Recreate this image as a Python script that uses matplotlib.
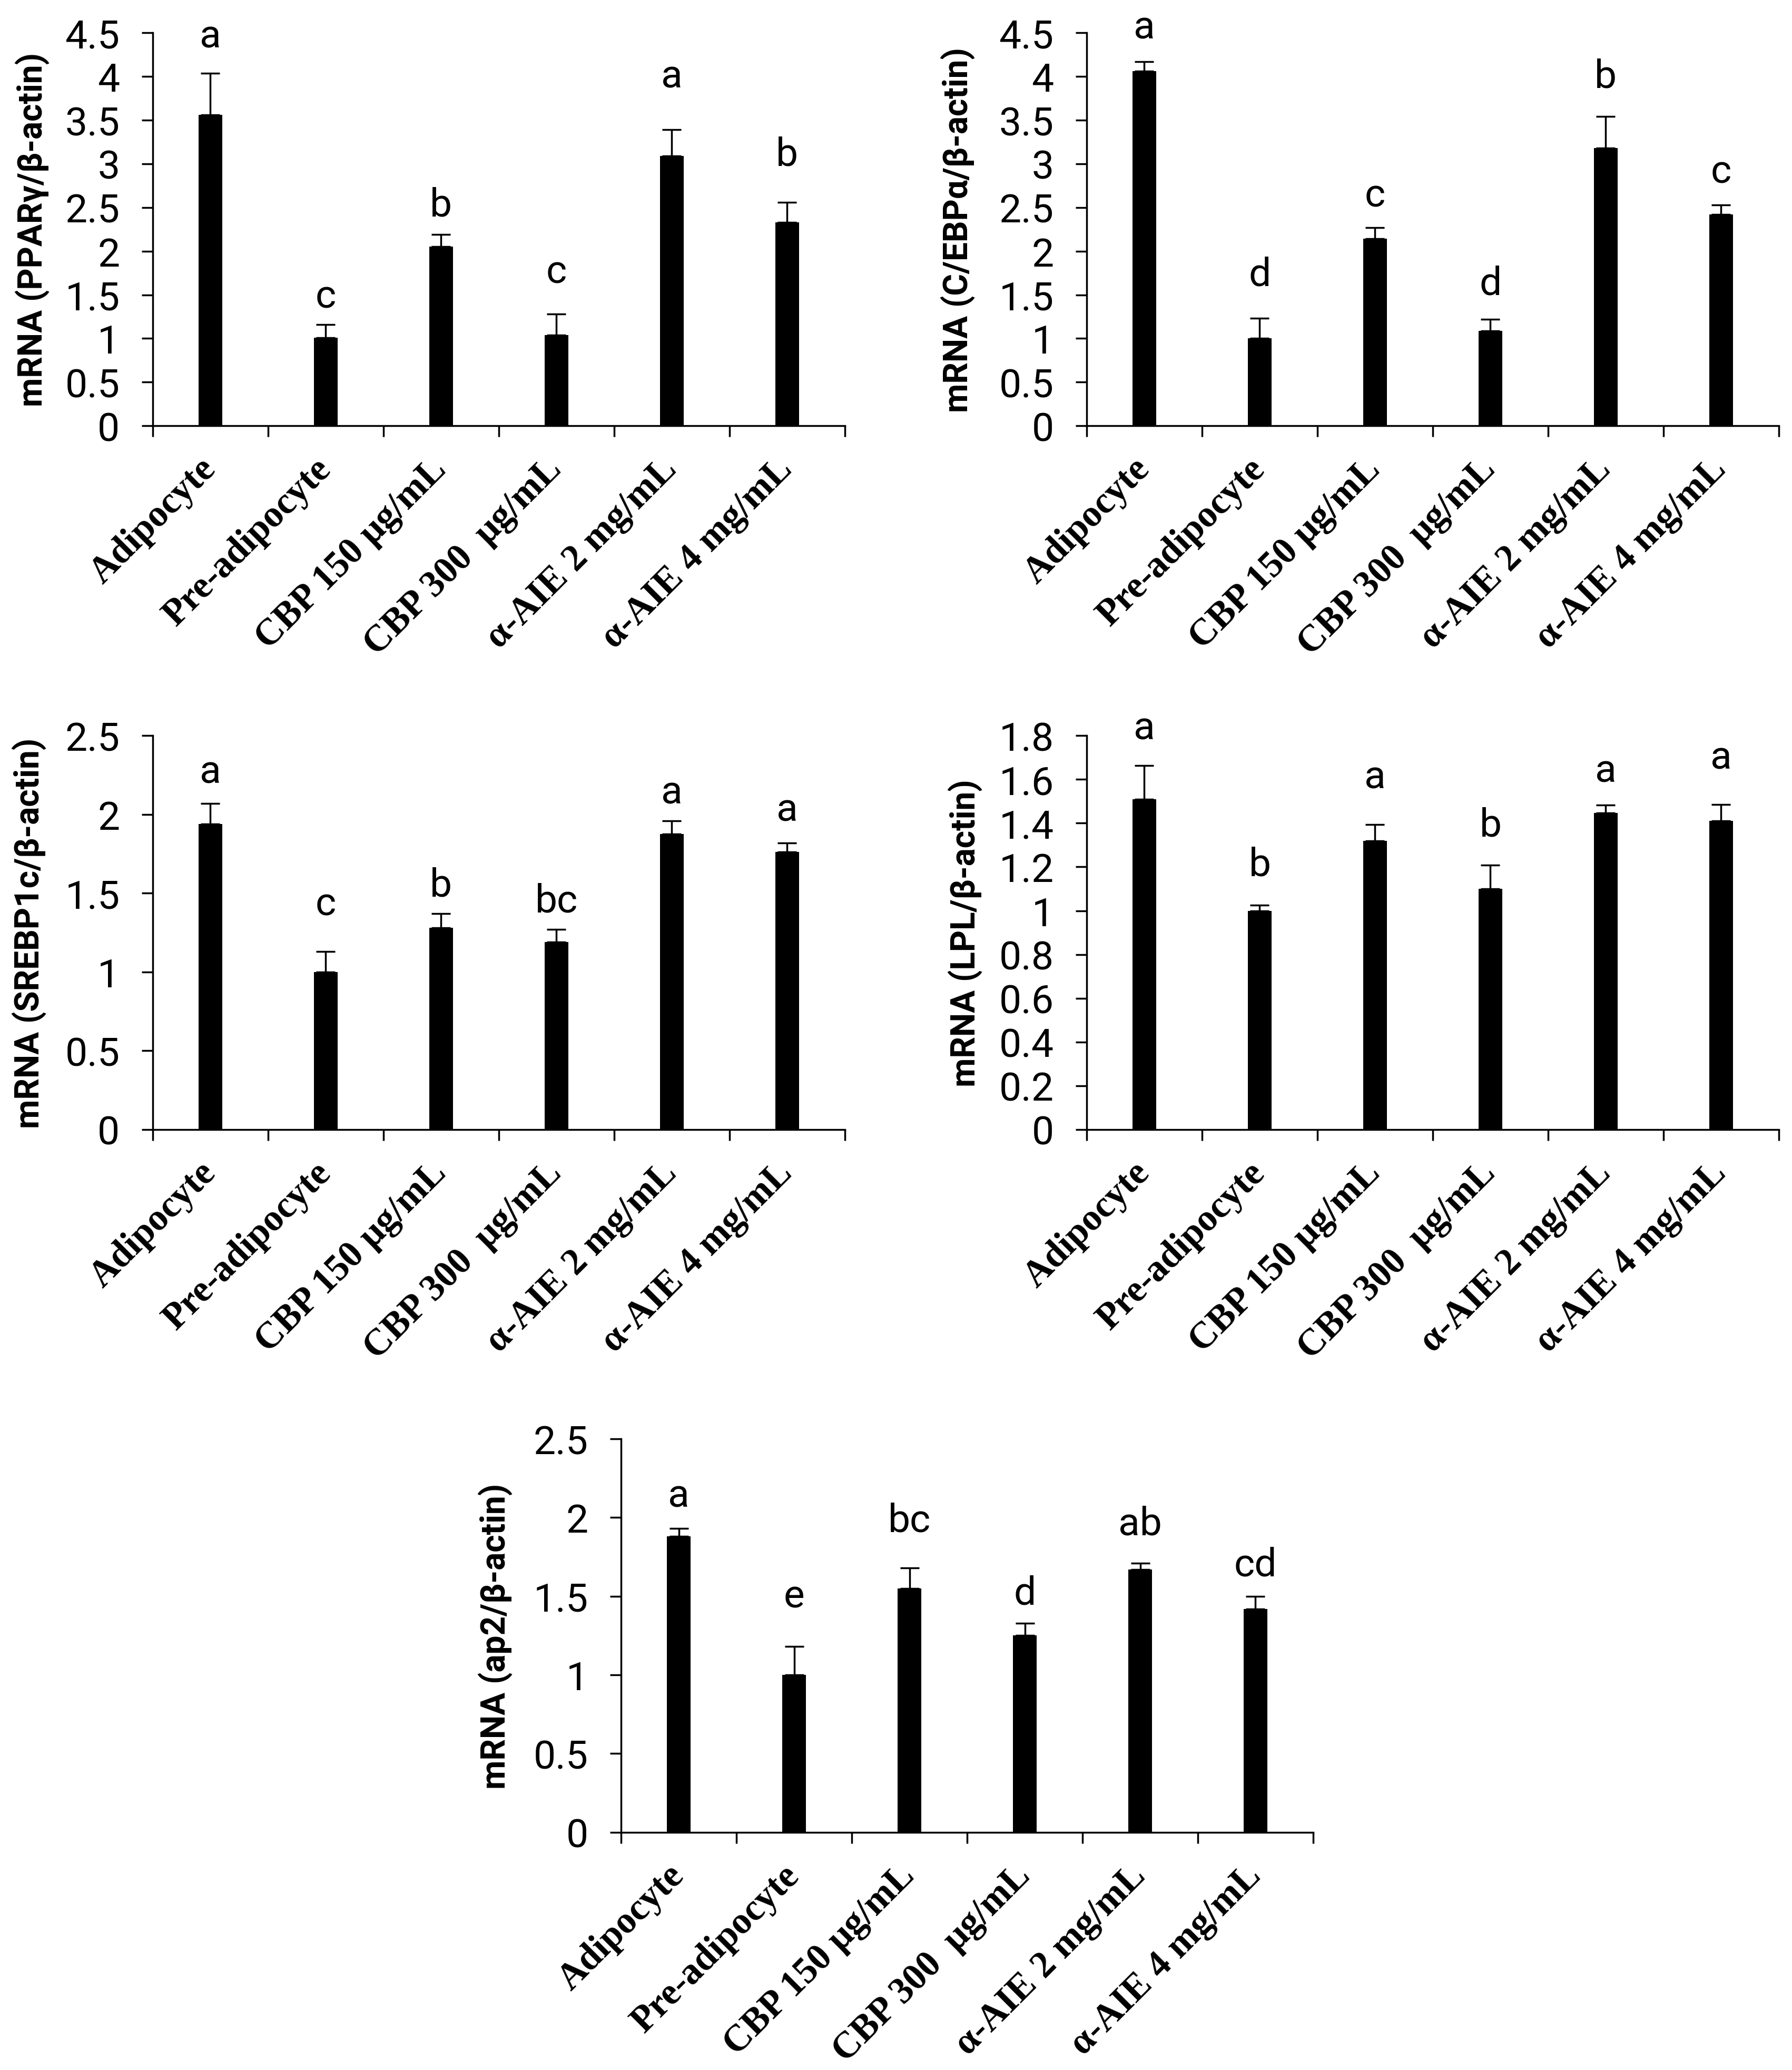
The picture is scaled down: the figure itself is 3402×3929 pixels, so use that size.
import numpy as np
import matplotlib
matplotlib.use('Agg')
import matplotlib.pyplot as plt

# group names on the x axis (same for all five panels)
groups = ['Adipocyte', 'Pre-adipocyte', 'CBP 150 μg/mL', 'CBP 300  μg/mL',
          'α-AIE 2 mg/mL', 'α-AIE 4 mg/mL']

# PPARγ
pparg = [3.56, 1.01, 2.05, 1.04, 3.09, 2.33]
pparg_err = [0.48, 0.15, 0.14, 0.24, 0.30, 0.23]
pparg_letters = ['a', 'c', 'b', 'c', 'a', 'b']
pparg_letter_y = [4.46, 1.48, 2.53, 1.76, 4.00, 3.11]

# C/EBPα
cebpa = [4.06, 1.00, 2.14, 1.09, 3.18, 2.42]
cebpa_err = [0.11, 0.23, 0.13, 0.13, 0.36, 0.11]
cebpa_letters = ['a', 'd', 'c', 'd', 'b', 'c']
cebpa_letter_y = [4.56, 1.73, 2.64, 1.63, 4.00, 2.91]

# SREBP1c
srebp = [1.94, 1.00, 1.28, 1.19, 1.875, 1.76]
srebp_err = [0.13, 0.13, 0.09, 0.08, 0.085, 0.06]
srebp_letters = ['a', 'c', 'b', 'bc', 'a', 'a']
srebp_letter_y = [2.27, 1.43, 1.55, 1.45, 2.14, 2.03]

# LPL
lpl = [1.51, 1.00, 1.32, 1.10, 1.447, 1.41]
lpl_err = [0.153, 0.026, 0.074, 0.107, 0.035, 0.075]
lpl_letters = ['a', 'b', 'a', 'b', 'a', 'a']
lpl_letter_y = [1.835, 1.21, 1.61, 1.39, 1.64, 1.70]

# ap2
ap2 = [1.88, 1.00, 1.55, 1.25, 1.67, 1.42]
ap2_err = [0.05, 0.18, 0.13, 0.08, 0.04, 0.08]
ap2_letters = ['a', 'e', 'bc', 'd', 'ab', 'cd']
ap2_letter_y = [2.14, 1.50, 1.98, 1.52, 1.96, 1.70]

num_font = ['Roboto', 'DejaVu Sans']
cat_font = ['Liberation Serif', 'DejaVu Serif']
lab_font = ['Roboto', 'DejaVu Sans']


def draw_panel(ax, vals, errs, letters, letter_y, ymax, step, ylabel, label_x):
    x = np.arange(len(groups))
    ax.bar(x, vals, width=0.205, color='black', zorder=3)
    ax.errorbar(x, vals, yerr=[np.zeros(len(vals)), errs], fmt='none',
                ecolor='black', elinewidth=2.5, capsize=13, capthick=2.5, zorder=2)
    for xi, let, ly in zip(x, letters, letter_y):
        ax.text(xi, ly, let, ha='center', va='center', fontsize=54,
                family=num_font)

    ax.set_xlim(-0.5, len(groups) - 0.5)
    ax.set_ylim(0, ymax)
    ticks = np.round(np.arange(0, ymax + step / 2, step), 2)
    ax.set_yticks(ticks)
    ax.set_yticklabels([f'{t:g}' for t in ticks], fontsize=54, family=num_font)
    ax.set_xticks(x)
    ax.set_xticklabels(groups, rotation=45, ha='right', va='center',
                       rotation_mode='anchor', fontsize=51, fontweight='bold',
                       family=cat_font)
    ax.set_xticks(np.arange(-0.5, len(groups)), minor=True)

    for s in ['top', 'right']:
        ax.spines[s].set_visible(False)
    for s in ['left', 'bottom']:
        ax.spines[s].set_linewidth(2.5)
    ax.tick_params(axis='y', which='major', length=15, width=2.5, pad=30)
    ax.tick_params(axis='x', which='major', length=0, pad=52)
    ax.tick_params(axis='x', which='minor', length=15, width=2.5)

    ax.set_ylabel(ylabel, fontsize=46, fontweight='bold', family=lab_font)
    ax.yaxis.set_label_coords(label_x, 0.5)


fig = plt.figure(figsize=(34.02, 39.30), dpi=100)

ax1 = fig.add_axes([0.0852, 0.7941, 0.3862, 0.1898])
draw_panel(ax1, pparg, pparg_err, pparg_letters, pparg_letter_y, 4.5, 0.5,
           'mRNA (PPARγ/β-actin)', -0.149)

ax2 = fig.add_axes([0.6064, 0.7941, 0.3862, 0.1898])
draw_panel(ax2, cebpa, cebpa_err, cebpa_letters, cebpa_letter_y, 4.5, 0.5,
           'mRNA (C/EBPα/β-actin)', -0.161)

ax3 = fig.add_axes([0.0852, 0.4542, 0.3862, 0.1903])
draw_panel(ax3, srebp, srebp_err, srebp_letters, srebp_letter_y, 2.5, 0.5,
           'mRNA (SREBP1c/β-actin)', -0.154)

ax4 = fig.add_axes([0.6064, 0.4542, 0.3862, 0.1903])
draw_panel(ax4, lpl, lpl_err, lpl_letters, lpl_letter_y, 1.8, 0.2,
           'mRNA (LPL/β-actin)', -0.151)

ax5 = fig.add_axes([0.3466, 0.1148, 0.3862, 0.1900])
draw_panel(ax5, ap2, ap2_err, ap2_letters, ap2_letter_y, 2.5, 0.5,
           'mRNA (ap2/β-actin)', -0.157)

fig.savefig('out.png', dpi=100, facecolor='white')
